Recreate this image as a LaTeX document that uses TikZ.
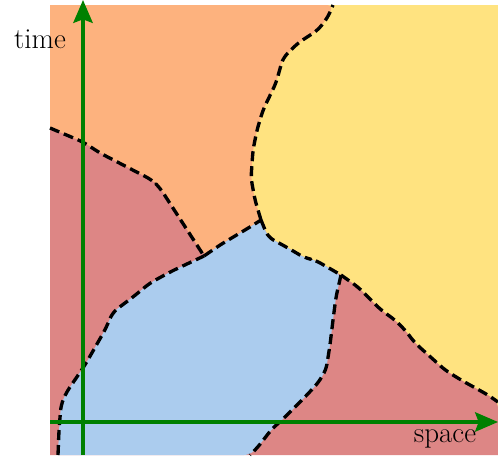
\documentclass[tikz,border=0pt]{standalone}
\usepackage{tikz}
\usetikzlibrary{arrows.meta}
\definecolor{myorange}{RGB}{253,178,126}
\definecolor{myyellow}{RGB}{255,227,128}
\definecolor{myred}{RGB}{221,134,133}
\definecolor{myblue}{RGB}{171,204,238}
\definecolor{mygreen}{RGB}{0,128,0}

% region boundaries (pixel units)
\def\bA{-- (83,142) -- (100,153) -- (152,180) -- (160,188) -- (204,256)}
\def\bB{-- (59,430) -- (61,405) -- (66,393) -- (85,365) -- (105,330) -- (113,312) -- (133,297) -- (150,283) -- (172,271) -- (204,256)}
\def\bC{-- (220,245) -- (250,227) -- (261,220)}
\def\bD{-- (255,200) -- (251,178) -- (253,150) -- (257,130) -- (263,110) -- (276,83) -- (283,58) -- (298,43) -- (318,30) -- (328,17) -- (333,5)}
\def\bE{-- (268,237) -- (288,248) -- (305,258) -- (315,260) -- (341,275)}
\def\bF{-- (358,287) -- (381,310) -- (395,320) -- (405,330) -- (415,343) -- (445,370) -- (461,380) -- (488,395) -- (498,402)}
\def\bG{-- (336,297) -- (333,320) -- (330,345) -- (326,370) -- (318,383) -- (305,397) -- (285,417) -- (271,430) -- (258,447) -- (250,455)}

\begin{document}
\begin{tikzpicture}[
    x=0.02cm,y=-0.02cm,
    region/.style={rounded corners=0.12cm},
    border/.style={dash pattern=on 0.2cm off 0.1cm,line width=1.9pt,line join=round,rounded corners=0.12cm},
    axis/.style={-{Stealth[length=13pt,width=11pt,inset=2pt]},mygreen,line width=2pt},
    lbl/.style={font=\fontsize{16.5pt}{20pt}\selectfont,inner sep=0pt}
]
\useasboundingbox (0,0) rectangle (498,460);
% regions
\fill[myyellow] (50,5) rectangle (498,455);
\fill[myorange,region] (50,128) \bA \bC \bD [sharp corners] -- (50,5) -- cycle;
\fill[myred,region] (50,128) \bA \bC \bE \bF [sharp corners] -- (498,455) -- (50,455) -- cycle;
\fill[myblue,region] (58,455) \bB \bC \bE \bG [sharp corners] -- cycle;
% dashed borders
\draw[border] (50,128) \bA;
\draw[border] (58,455) \bB;
\draw[border] (204,256) \bC;
\draw[border] (261,220) \bD;
\draw[border] (261,220) \bE;
\draw[border] (341,275) \bF;
\draw[border] (341,275) \bG;
% axes
\coordinate (xs) at (50,422);
\coordinate (xe) at (498,422);
\coordinate (ys) at (83,455);
\coordinate (ye) at (83,0);
\draw[axis] (xs) -- (xe);
\draw[axis] (ys) -- (ye);
\node[lbl] (time) at (40,39) {time};
\node[lbl] (space) at (445,439) {space};
\end{tikzpicture}
\end{document}
